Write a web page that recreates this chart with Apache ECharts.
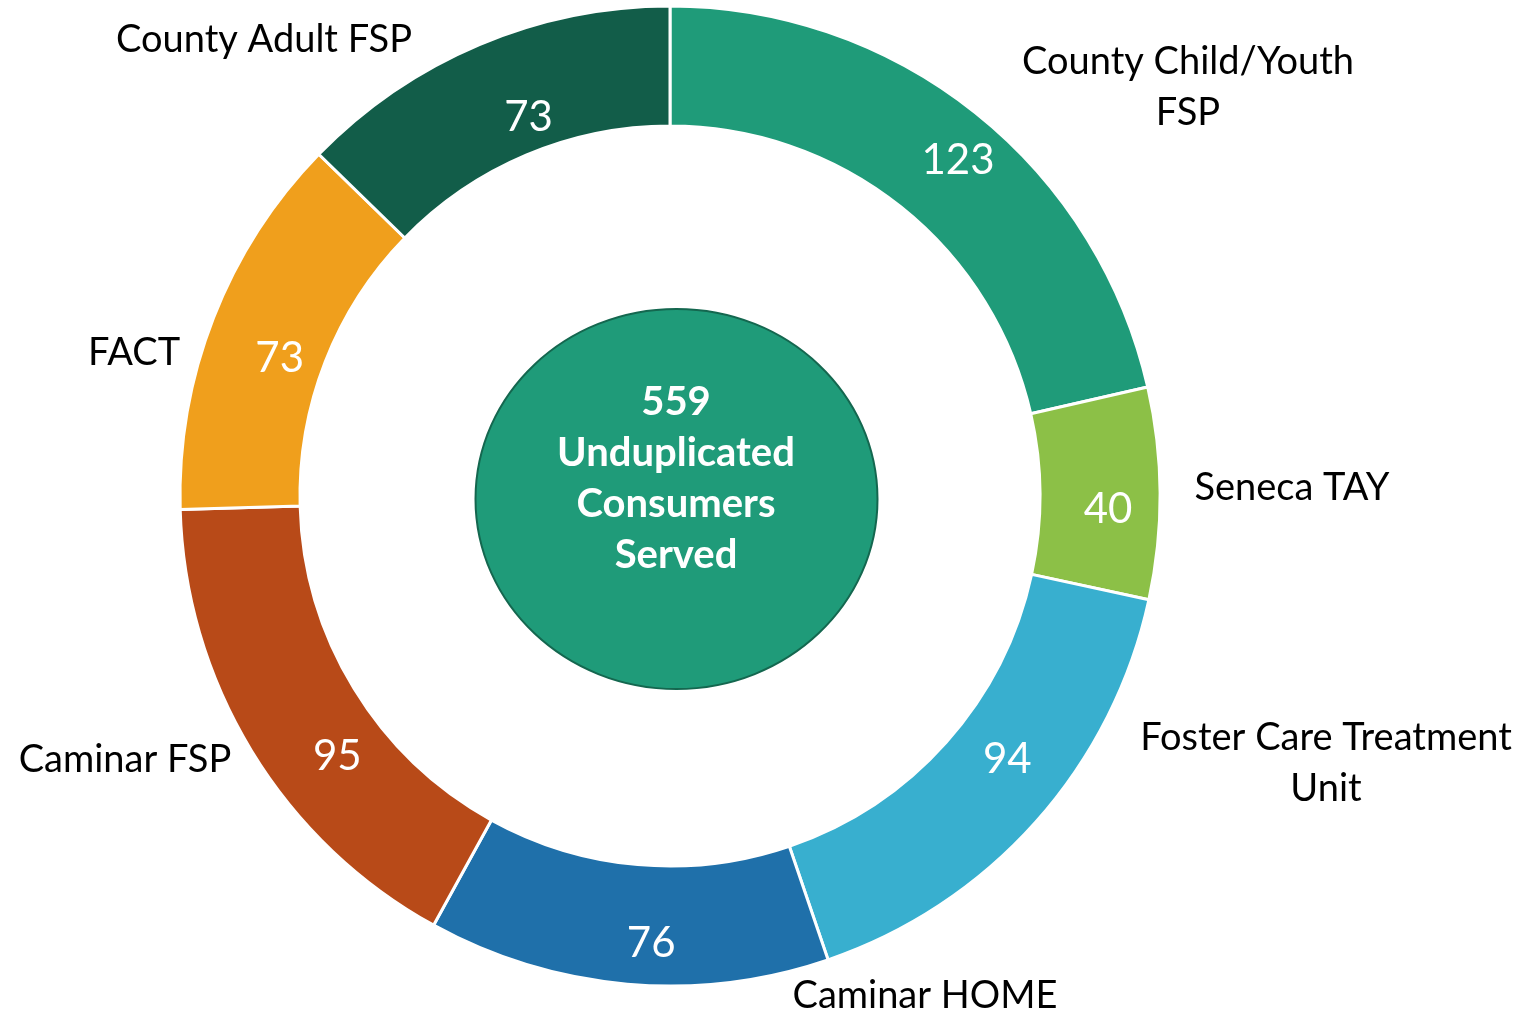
<!DOCTYPE html>
<html>
<head>
<meta charset="utf-8">
<script src="https://cdn.jsdelivr.net/npm/echarts@6/dist/echarts.min.js"></script>
<style>
  html, body { margin: 0; padding: 0; background: #fff; }
  #chart { width: 1530px; height: 1014px; }
</style>
</head>
<body>
<div id="chart"></div>
<script>
// data
const categories = [
  "County Child/Youth FSP",
  "Seneca TAY",
  "Foster Care Treatment Unit",
  "Caminar HOME",
  "Caminar FSP",
  "FACT",
  "County Adult FSP"
];
const values = [123, 40, 94, 76, 95, 73, 73];
const wrappedNames = [
  "County Child/Youth\nFSP",
  "Seneca TAY",
  "Foster Care Treatment\nUnit",
  "Caminar HOME",
  "Caminar FSP",
  "FACT",
  "County Adult FSP"
];
const centerLines = ["559", "Unduplicated", "Consumers", "Served"];

const colors = ["#1f9b79", "#8cc047", "#38afcf", "#1f70aa", "#b84a18", "#f09f1c", "#125d49"];
// where each category name sits (text centre, px)
const namePos = [
  [1188, 87], [1292, 488], [1326, 763], [925, 996], [125, 760], [134, 353], [264, 40]
];
// small shifts of the value labels, like the hand-placed ones in the original
const valueNudge = [
  [18, 3], [5, 16], [14, -25], [19, 16], [37, 35], [13, 20], [27, 20]
];

const FONT = "Lato, 'Open Sans', sans-serif";
const CENTER = [670, 496];

const chart = echarts.init(document.getElementById("chart"));

const pieData = categories.map((c, i) => ({
  name: c,
  value: values[i],
  itemStyle: { color: colors[i] }
}));

chart.setOption({
  animation: false,
  graphic: [
    {
      type: "ellipse",
      shape: { cx: 676.5, cy: 499, rx: 201, ry: 190 },
      style: { fill: "#1f9b79", stroke: "#14674f", lineWidth: 2 },
      z: 10
    },
    {
      type: "text",
      x: 676,
      y: 479,
      z: 11,
      style: {
        text: centerLines.join("\n"),
        font: "bold 40px " + FONT,
        fill: "#fff",
        align: "center",
        verticalAlign: "middle",
        lineHeight: 51
      }
    }
  ],
  series: [
    {
      type: "pie",
      center: CENTER,
      radius: [370, 490],
      startAngle: 90,
      clockwise: true,
      silent: true,
      itemStyle: { borderColor: "#fff", borderWidth: 3 },
      label: {
        show: true,
        position: "inside",
        formatter: "{c}",
        color: "#fff",
        fontFamily: FONT,
        fontSize: 42
      },
      labelLine: { show: false },
      labelLayout: (p) => ({
        dx: valueNudge[p.dataIndex][0],
        dy: valueNudge[p.dataIndex][1]
      }),
      data: pieData
    },
    {
      type: "pie",
      center: CENTER,
      radius: [370, 490],
      startAngle: 90,
      clockwise: true,
      silent: true,
      itemStyle: { color: "transparent", borderWidth: 0 },
      label: {
        show: true,
        position: "outside",
        formatter: (p) => wrappedNames[p.dataIndex],
        color: "#000",
        fontFamily: FONT,
        fontSize: 38,
        lineHeight: 51,
        align: "center",
        overflow: "none"
      },
      labelLine: { show: false },
      labelLayout: (p) => ({
        x: namePos[p.dataIndex][0],
        y: namePos[p.dataIndex][1],
        align: "center",
        verticalAlign: "middle"
      }),
      data: categories.map((c, i) => ({ name: c, value: values[i] }))
    }
  ]
});
</script>
</body>
</html>
